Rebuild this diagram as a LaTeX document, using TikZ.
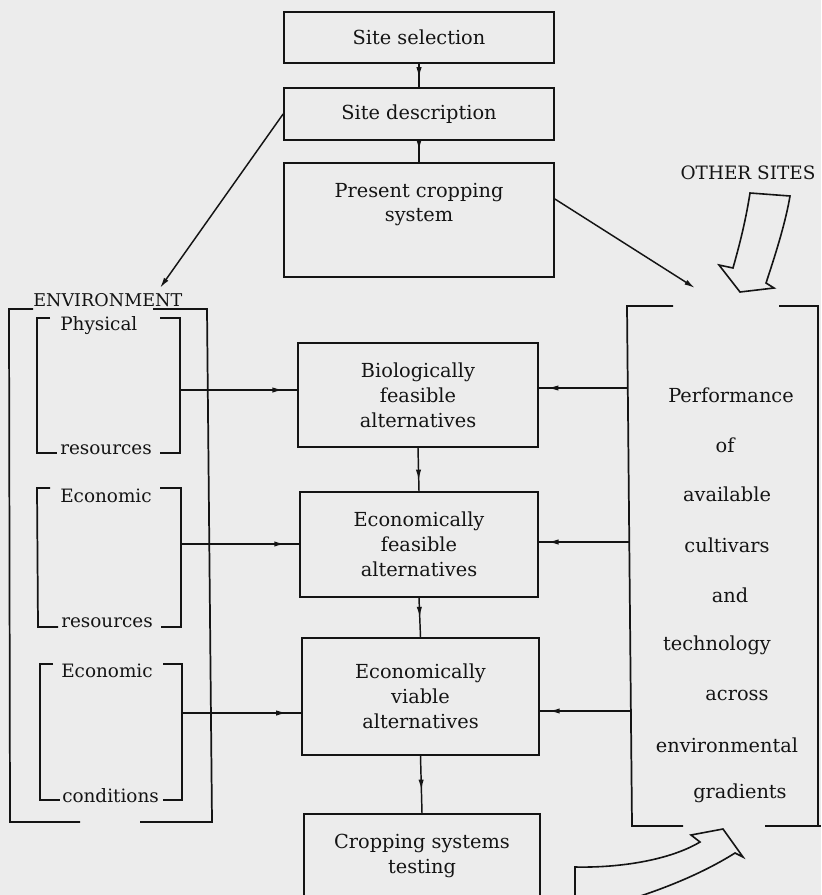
\documentclass[tikz,border=0pt]{standalone}
\usepackage{fontspec}
\setmainfont{DejaVu Serif}
\usetikzlibrary{arrows.meta,decorations.markings}
\definecolor{paper}{RGB}{236,236,236}
\definecolor{ink}{RGB}{20,20,20}
\tikzset{
  box/.style={draw=ink, line width=1.3pt, inner sep=0pt, align=center, text=ink,
    font=\fontsize{14.5}{18.7}\selectfont},
  conn/.style={draw=ink, line width=1.1pt, postaction={decorate},
    decoration={markings, mark=at position #1 with {\arrow{Latex[length=8pt,width=4pt]}}}},
  conn/.default=0.85,
  link/.style={draw=ink, line width=1.1pt, -{Latex[length=8pt,width=4pt]}},
  brk/.style={draw=ink, line width=1.3pt},
  lbl/.style={font=\fontsize{14.5}{16}\selectfont, text=ink, inner sep=0pt},
  slbl/.style={font=\fontsize{13.8}{16}\selectfont, text=ink, inner sep=0pt, anchor=base west},
  hollow/.style={draw=ink, line width=1.2pt, fill=paper, line join=miter},
}
\begin{document}
\begin{tikzpicture}[x=0.75pt,y=-0.75pt]
\fill[paper] (0,0) rectangle (821,895);
\useasboundingbox (0,0) rectangle (821,895);

% central column
\node[box, minimum width=202.5pt, minimum height=38.25pt] (sel) at (419,37.5) {Site selection};
\node[box, minimum width=202.5pt, minimum height=39pt] (desc) at (419,114) {Site description};
\node[box, minimum width=202.5pt, minimum height=85.5pt] (pres) at (419,220) {};
\node[lbl, align=center, font=\fontsize{14.5}{18}\selectfont] (prestxt) at (419,205) {Present cropping\\system};
\node[box, minimum width=180pt, minimum height=78pt] (bio) at (418,395) {Biologically\\feasible\\alternatives};
\node[box, minimum width=178.5pt, minimum height=78.75pt] (ecof) at (419,544.5) {Economically\\feasible\\alternatives};
\node[box, minimum width=177.75pt, minimum height=87.75pt] (viab) at (420.5,696.5) {Economically\\viable\\alternatives};
\node[box, minimum width=177pt, minimum height=63pt] (test) at (422,856) {Cropping systems\\testing};

\draw[conn=0.6] (sel.south) -- (desc.north);
\draw[conn=0.45] (desc.south) -- (pres.north);
\draw[conn=0.75] (bio.south) -- (ecof.north);
\draw[conn=0.5] (ecof.south) -- (viab.north);
\draw[conn=0.6] (viab.south) -- (test.north);

% environment bracket
\node[slbl, font=\fontsize{13.2}{16}\selectfont] (env) at (33,306) {ENVIRONMENT};
\draw[brk] (33,309) -- (9,309) -- (10,822) -- (80,822);
\draw[brk] (153,309) -- (207,309) -- (212,822) -- (140,822);

\draw[brk] (50,318) -- (37,318) -- (37,453) -- (57,453);
\draw[brk] (160,318) -- (180,318) -- (180,453) -- (160,453);
\node[slbl] (phys) at (60,330) {Physical};
\node[slbl] (res1) at (60,454) {resources};

\draw[brk] (50,488) -- (37,488) -- (38,627) -- (58,627);
\draw[brk] (160,488) -- (181,488) -- (181,627) -- (161,627);
\node[slbl] (eco1) at (60,502) {Economic};
\node[slbl] (res2) at (61,627) {resources};

\draw[brk] (53,664) -- (40,664) -- (40,800) -- (60,800);
\draw[brk] (163,664) -- (182,664) -- (182,800) -- (163,800);
\node[slbl] (eco2) at (61,677) {Economic};
\node[slbl] (cond) at (62,802) {conditions};

\coordinate (l1) at (180,390);
\coordinate (l2) at (181,544);
\coordinate (l3) at (182,713);
\draw[conn=0.88] (l1) -- (l1 -| bio.west);
\draw[conn=0.88] (l2) -- (l2 -| ecof.west);
\draw[conn=0.88] (l3) -- (l3 -| viab.west);

% performance bracket
\draw[brk] (673,306) -- (627,306) -- (632,826) -- (683,826);
\draw[brk] (779,306) -- (818,306) -- (818,826);
\draw[brk] (765,826) -- (821,826);
\node[lbl] (p1) at (731,395) {Performance};
\node[lbl] (p2) at (725,445) {of};
\node[lbl] (p3) at (727,494) {available};
\node[lbl] (p4) at (727,545) {cultivars};
\node[lbl] (p5) at (730,595) {and};
\node[lbl] (p6) at (717,645) {technology};
\node[lbl] (p7) at (737,695) {across};
\node[lbl] (p8) at (727,745) {environmental};
\node[lbl] (p9) at (740,793) {gradients};

\coordinate (r1) at (627,388);
\coordinate (r2) at (629,542);
\coordinate (r3) at (631,711);
\draw[conn=0.9] (r1) -- (r1 -| bio.east);
\draw[conn=0.9] (r2) -- (r2 -| ecof.east);
\draw[conn=0.9] (r3) -- (r3 -| viab.east);

% diagonal links
\coordinate (envtip) at (160,288);
\coordinate (perftip) at (695,288);
\draw[link] (desc.west) -- (envtip);
\draw[link] ([yshift=15.75pt]pres.east) -- (perftip);

% other sites
\node[lbl, font=\fontsize{13.8}{16}\selectfont] (other) at (748,173) {OTHER SITES};
\draw[hollow] (750,193) .. controls (745,225) and (738,250) .. (733,268)
  -- (719,265) -- (740,292) -- (774,288) -- (766,283)
  .. controls (777,250) and (786,220) .. (790,196) -- cycle;

% feedback arrow from testing
\draw[hollow] (575,900) -- (575,867) .. controls (620,868) and (670,860) .. (700,842)
  -- (691,835) -- (723,829) -- (743,857) -- (735,853)
  .. controls (700,875) and (660,890) .. (628,900);
\end{tikzpicture}
\end{document}
